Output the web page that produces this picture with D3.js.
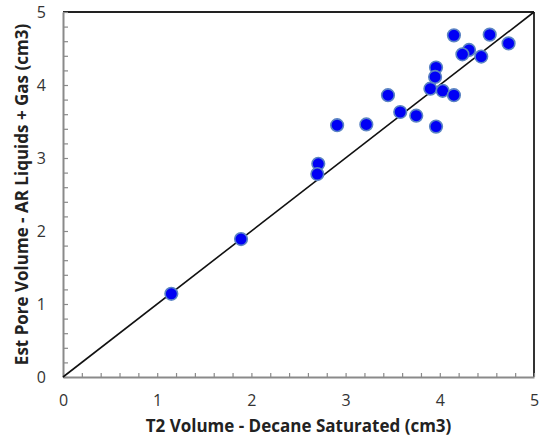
<!DOCTYPE html>
<html>
<head>
<meta charset="utf-8">
<script src="https://cdn.jsdelivr.net/npm/d3@7"></script>
<style>
  body { margin: 0; background: #fff; }
  text { font-family: 'Open Sans', 'Liberation Sans', sans-serif; }
</style>
</head>
<body>
<div id="chart"></div>
<script>
// T2 volume (x) vs estimated pore volume (y), cm3
const t2Volume = [4.15, 4.53, 4.73, 4.31, 4.24, 4.44, 3.96, 3.95, 3.90, 4.03, 4.15,
  3.45, 3.58, 3.75, 3.96, 3.22, 2.91, 2.71, 2.70, 1.89, 1.15]
const poreVolume = [4.68, 4.69, 4.57, 4.48, 4.42, 4.39, 4.24, 4.11, 3.95, 3.92, 3.86,
  3.86, 3.63, 3.58, 3.43, 3.46, 3.45, 2.92, 2.78, 1.89, 1.14]
const majorTicks = [0, 1, 2, 3, 4, 5]
const minorTicks = d3.range(0, 5.001, 0.2)
const oneToOne = [0, 5]

const margin = { top: 12, right: 8, bottom: 60, left: 63 }
const width = 542 - margin.left - margin.right
const height = 437 - margin.top - margin.bottom

const svg = d3
  .select('#chart')
  .append('svg')
  .attr('width', 542)
  .attr('height', 437)
  .append('g')
  .attr('transform', 'translate(' + margin.left + ',' + margin.top + ')')

const xPositionScale = d3.scaleLinear().domain([0, 5]).range([0, width])
const yPositionScale = d3.scaleLinear().domain([0, 5]).range([height, 0])

// frame: top and right are dark, bottom and left gray
svg.append('line')
  .attr('x1', 0).attr('x2', width).attr('y1', 0).attr('y2', 0)
  .attr('stroke', '#222').attr('stroke-width', 2)
svg.append('line')
  .attr('x1', width).attr('x2', width).attr('y1', 0).attr('y2', height)
  .attr('stroke', '#333').attr('stroke-width', 2)

// minor ticks (pointing inward)
const xAxisMinor = d3.axisTop(xPositionScale).tickValues(minorTicks).tickSize(4).tickFormat('')
svg.append('g')
  .attr('class', 'x-minor')
  .attr('transform', 'translate(0,' + height + ')')
  .call(xAxisMinor)

const yAxisMinor = d3.axisRight(yPositionScale).tickValues(minorTicks).tickSize(5).tickFormat('')
svg.append('g')
  .attr('class', 'y-minor')
  .call(yAxisMinor)

svg.selectAll('.x-minor .domain, .y-minor .domain').remove()
svg.selectAll('.x-minor line, .y-minor line').attr('stroke', '#8a8a8a').attr('stroke-width', 1.2)

// major axes: labels outside
const xAxis = d3.axisBottom(xPositionScale).tickValues(majorTicks).tickSize(0).tickPadding(18).tickFormat(d3.format('d'))
svg.append('g')
  .attr('class', 'axis x-axis')
  .attr('transform', 'translate(0,' + height + ')')
  .call(xAxis)

const yAxis = d3.axisLeft(yPositionScale).tickValues(majorTicks).tickSize(0).tickPadding(17).tickFormat(d3.format('d'))
svg.append('g')
  .attr('class', 'axis y-axis')
  .call(yAxis)

svg.selectAll('.axis .domain').attr('stroke', '#8a8a8a').attr('stroke-width', 2)
svg.selectAll('.axis text')
  .attr('font-size', 16)
  .attr('fill', '#333')
  .style('font-family', "'Open Sans', sans-serif")

// 1:1 line
const line = d3.line()
  .x(d => xPositionScale(d))
  .y(d => yPositionScale(d))
svg.append('path')
  .datum(oneToOne)
  .attr('d', line)
  .attr('fill', 'none')
  .attr('stroke', '#111')
  .attr('stroke-width', 1.6)

// points
svg.selectAll('circle')
  .data(t2Volume)
  .enter()
  .append('circle')
  .attr('cx', d => xPositionScale(d))
  .attr('cy', (d, i) => yPositionScale(poreVolume[i]))
  .attr('r', 6.3)
  .attr('fill', '#0000f5')
  .attr('stroke', '#5b84c4')
  .attr('stroke-width', 1.6)

// axis titles
svg.append('text')
  .attr('x', width / 2)
  .attr('y', height + 55)
  .attr('text-anchor', 'middle')
  .attr('font-size', 17)
  .attr('font-weight', 'bold')
  .attr('fill', '#222')
  .text('T2 Volume - Decane Saturated (cm3)')

svg.append('text')
  .attr('transform', 'translate(' + (-35) + ',' + (height / 2) + ') rotate(-90)')
  .attr('text-anchor', 'middle')
  .attr('font-size', 17)
  .attr('font-weight', 'bold')
  .attr('fill', '#222')
  .text('Est Pore Volume - AR Liquids + Gas (cm3)')
</script>
</body>
</html>
